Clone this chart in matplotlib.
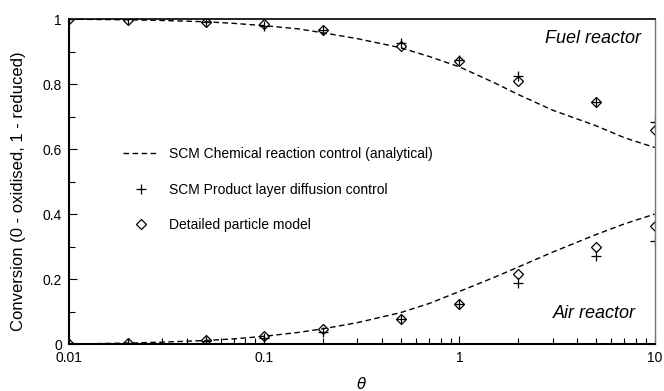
import matplotlib
matplotlib.use("Agg")
import matplotlib.pyplot as plt
from matplotlib.ticker import FixedLocator, NullFormatter

plt.rcParams['font.family'] = ['Liberation Sans', 'DejaVu Sans']

# dashed SCM chemical reaction control curves
theta_line = [0.01, 0.02, 0.03, 0.05, 0.07, 0.1, 0.15, 0.2, 0.3, 0.5, 0.7, 1, 1.5, 2, 3, 5, 7, 10]
fuel_line = [1.0, 0.998, 0.996, 0.992, 0.987, 0.98, 0.97, 0.958, 0.94, 0.912, 0.885, 0.853,
             0.805, 0.768, 0.72, 0.672, 0.635, 0.605]
air_line = [0.0, 0.003, 0.006, 0.011, 0.016, 0.024, 0.036, 0.047, 0.066, 0.097, 0.125, 0.162,
            0.205, 0.237, 0.283, 0.337, 0.37, 0.40]

# sample points
theta_pts = [0.01, 0.02, 0.05, 0.1, 0.2, 0.5, 1, 2, 5, 10]
fuel_pld = [1.0, 1.0, 0.992, 0.979, 0.967, 0.927, 0.875, 0.825, 0.746, 0.684]
fuel_dpm = [1.0, 0.998, 0.992, 0.984, 0.967, 0.918, 0.872, 0.809, 0.744, 0.66]
air_pld = [0.0, 0.002, 0.011, 0.02, 0.036, 0.076, 0.124, 0.187, 0.27, 0.317]
air_dpm = [0.0, 0.003, 0.013, 0.025, 0.045, 0.076, 0.124, 0.215, 0.30, 0.364]

fig = plt.figure(figsize=(6.64, 3.91), dpi=100)
ax = fig.add_axes([0.104, 0.12, 0.882, 0.831])

ax.plot(theta_line, fuel_line, 'k--', lw=1.0, dashes=(4, 2.5),
        label='SCM Chemical reaction control (analytical)')
ax.plot(theta_line, air_line, 'k--', lw=1.0, dashes=(4, 2.5))
ax.plot(theta_pts, fuel_pld, 'k+', ms=7.5, mew=0.9, ls='none',
        label='SCM Product layer diffusion control')
ax.plot(theta_pts, air_pld, 'k+', ms=7.5, mew=0.9, ls='none')
ax.plot(theta_pts, fuel_dpm, 'D', ms=5, mfc='none', mec='k', mew=0.9, ls='none',
        label='Detailed particle model')
ax.plot(theta_pts, air_dpm, 'D', ms=5, mfc='none', mec='k', mew=0.9, ls='none')

ax.set_xscale('log')
ax.set_xlim(0.01, 10)
ax.set_ylim(0, 1)
ax.set_xticks([0.01, 0.1, 1, 10])
ax.set_xticklabels(['0.01', '0.1', '1', '10'])
ax.xaxis.set_minor_formatter(NullFormatter())
ax.set_yticks([0, 0.2, 0.4, 0.6, 0.8, 1])
ax.set_yticklabels(['0', '0.2', '0.4', '0.6', '0.8', '1'])
ax.yaxis.set_minor_locator(FixedLocator([0.1, 0.3, 0.5, 0.7, 0.9]))
ax.tick_params(which='both', direction='in', top=False, right=False, labelsize=10, width=0.8)
ax.tick_params(which='major', length=6, pad=5)
ax.tick_params(which='minor', length=4)

for s in ['left', 'bottom']:
    ax.spines[s].set_linewidth(1.5)
ax.spines['top'].set_linewidth(1.2)
ax.spines['right'].set_linewidth(1.0)
ax.spines['right'].set_color('#777777')

ax.set_xlabel(r'$\theta$', fontsize=11)
ax.xaxis.set_label_coords(0.5, -0.098)
ax.set_ylabel('Conversion (0 - oxidised, 1 - reduced)', fontsize=12)
ax.yaxis.set_label_coords(-0.074, 0.47)

ax.text(0.977, 0.942, 'Fuel reactor', transform=ax.transAxes, fontsize=13,
        style='italic', ha='right', va='center')
ax.text(0.968, 0.095, 'Air reactor', transform=ax.transAxes, fontsize=13,
        style='italic', ha='right', va='center')

ax.legend(loc='upper left', bbox_to_anchor=(0.07, 0.645), frameon=False, fontsize=10,
          handlelength=2.66, labelspacing=1.56, handletextpad=0.65)

fig.savefig('out.png', dpi=100)
